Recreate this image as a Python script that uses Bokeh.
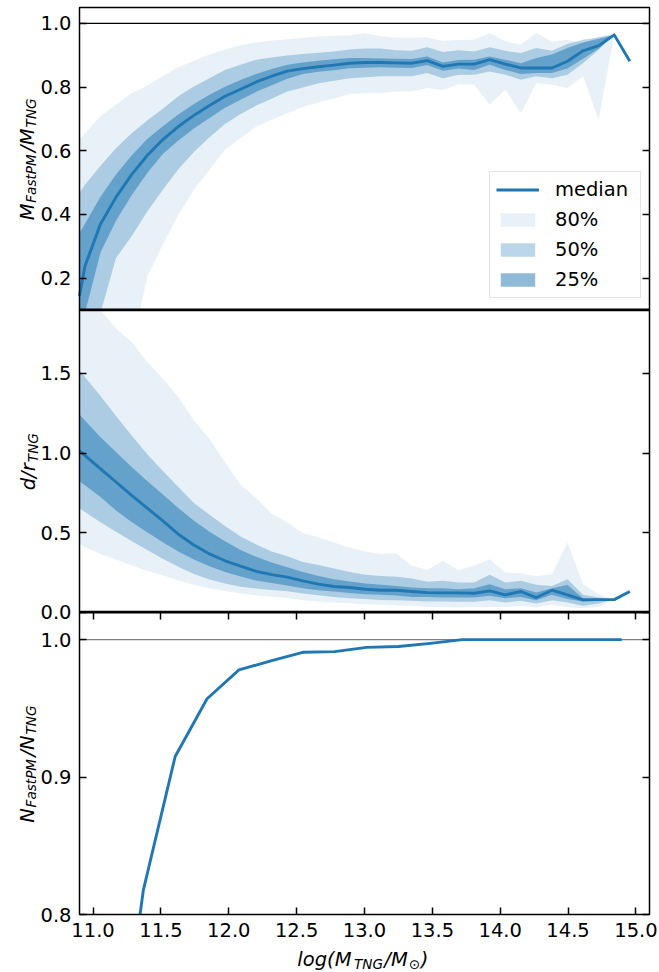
import numpy as np
from math import pi
from bokeh.plotting import figure
from bokeh.models import (Range1d, LinearAxis, FixedTicker, PrintfTickFormatter,
                          CustomJSTickFormatter, BoxAnnotation, Legend, LegendItem, Label)
from bokeh.embed import file_html
from bokeh.resources import INLINE

# ------------------------------------------------------------------ data
x_bins = [10.825, 10.940, 11.055, 11.169, 11.284, 11.399, 11.514, 11.628, 11.743,
          11.858, 11.972, 12.087, 12.202, 12.316, 12.431, 12.546, 12.661, 12.775,
          12.890, 13.005, 13.119, 13.234, 13.349, 13.463, 13.578, 13.693, 13.808,
          13.922, 14.037, 14.152, 14.266, 14.381, 14.496, 14.610, 14.725, 14.840,
          14.955]

# panel 1 : M_FastPM / M_TNG
mass_median = [-0.03, 0.237, 0.370, 0.454, 0.525, 0.585, 0.635, 0.676, 0.711, 0.742,
               0.771, 0.793, 0.816, 0.834, 0.850, 0.858, 0.864, 0.869, 0.875, 0.877,
               0.877, 0.876, 0.875, 0.883, 0.865, 0.872, 0.872, 0.886, 0.872, 0.860,
               0.860, 0.860, 0.881, 0.914, 0.930, 0.964, 0.881]
mass_p25_hi = [0.29, 0.370, 0.455, 0.525, 0.585, 0.637, 0.677, 0.714, 0.747, 0.776,
               0.801, 0.822, 0.841, 0.857, 0.870, 0.877, 0.883, 0.887, 0.891, 0.891,
               0.890, 0.889, 0.888, 0.896, 0.877, 0.885, 0.886, 0.896, 0.886, 0.875,
               0.891, 0.902, 0.923, 0.940, 0.951, 0.964]
mass_p25_lo = [-0.10, 0.09, 0.28, 0.38, 0.46, 0.53, 0.59, 0.632, 0.670, 0.703, 0.735,
               0.760, 0.785, 0.806, 0.826, 0.841, 0.848, 0.853, 0.859, 0.861, 0.862,
               0.861, 0.860, 0.869, 0.851, 0.858, 0.854, 0.870, 0.854, 0.841, 0.844,
               0.844, 0.858, 0.889, 0.920, 0.964]
mass_p50_hi = [0.42, 0.493, 0.553, 0.608, 0.655, 0.695, 0.732, 0.771, 0.802, 0.828,
               0.854, 0.870, 0.886, 0.893, 0.899, 0.904, 0.908, 0.912, 0.918, 0.921,
               0.921, 0.916, 0.914, 0.925, 0.910, 0.916, 0.912, 0.925, 0.914, 0.907,
               0.923, 0.914, 0.935, 0.949, 0.956, 0.964]
mass_p50_lo = [-0.30, -0.10, 0.09, 0.263, 0.331, 0.409, 0.477, 0.542, 0.596, 0.642,
               0.684, 0.715, 0.742, 0.763, 0.786, 0.799, 0.812, 0.820, 0.828, 0.831,
               0.834, 0.834, 0.834, 0.844, 0.828, 0.839, 0.839, 0.849, 0.839, 0.823,
               0.834, 0.828, 0.839, 0.875, 0.917, 0.964]
mass_p80_hi = [0.60, 0.655, 0.708, 0.745, 0.781, 0.805, 0.834, 0.862, 0.883, 0.902,
               0.917, 0.931, 0.940, 0.946, 0.950, 0.955, 0.959, 0.961, 0.963, 0.969,
               0.960, 0.955, 0.955, 0.956, 0.945, 0.948, 0.949, 0.970, 0.943, 0.933,
               0.970, 0.943, 0.949, 0.938, 0.959, 0.966]
mass_p80_lo = [-0.55, -0.40, -0.27, -0.15, -0.03, 0.205, 0.305, 0.399, 0.477, 0.540,
               0.603, 0.640, 0.676, 0.697, 0.718, 0.737, 0.752, 0.763, 0.778, 0.781,
               0.781, 0.786, 0.786, 0.797, 0.790, 0.809, 0.807, 0.745, 0.792, 0.718,
               0.813, 0.807, 0.797, 0.834, 0.697, 0.964]

# panel 2 : d / r_TNG
dist_median = [1.07, 0.985, 0.901, 0.818, 0.734, 0.654, 0.574, 0.490, 0.422, 0.366,
               0.323, 0.289, 0.256, 0.236, 0.220, 0.197, 0.176, 0.161, 0.155, 0.144,
               0.138, 0.138, 0.130, 0.123, 0.121, 0.121, 0.119, 0.134, 0.109, 0.130,
               0.092, 0.138, 0.109, 0.077, 0.079, 0.079, 0.130]
dist_p25_hi = [1.31, 1.205, 1.10, 1.006, 0.912, 0.825, 0.740, 0.655, 0.575, 0.505,
               0.445, 0.390, 0.348, 0.312, 0.282, 0.252, 0.228, 0.207, 0.193, 0.180,
               0.172, 0.165, 0.155, 0.151, 0.151, 0.144, 0.151, 0.176, 0.144, 0.151,
               0.123, 0.150, 0.170, 0.088, 0.086, 0.079]
dist_p25_lo = [0.87, 0.797, 0.723, 0.639, 0.566, 0.503, 0.440, 0.382, 0.331, 0.289,
               0.252, 0.224, 0.199, 0.184, 0.168, 0.151, 0.138, 0.130, 0.121, 0.113,
               0.109, 0.105, 0.096, 0.096, 0.092, 0.092, 0.092, 0.103, 0.088, 0.096,
               0.075, 0.109, 0.082, 0.067, 0.071, 0.079]
dist_p50_hi = [1.60, 1.478, 1.358, 1.233, 1.111, 0.992, 0.887, 0.786, 0.686, 0.612,
               0.541, 0.476, 0.426, 0.382, 0.352, 0.316, 0.297, 0.274, 0.253, 0.235,
               0.228, 0.222, 0.212, 0.191, 0.197, 0.186, 0.186, 0.235, 0.186, 0.197,
               0.172, 0.165, 0.207, 0.109, 0.092, 0.079]
dist_p50_lo = [0.69, 0.63, 0.565, 0.505, 0.447, 0.39, 0.335, 0.285, 0.24, 0.205, 0.18,
               0.16, 0.148, 0.14, 0.132, 0.117, 0.107, 0.096, 0.088, 0.082, 0.077,
               0.075, 0.071, 0.067, 0.067, 0.065, 0.065, 0.075, 0.061, 0.071, 0.054,
               0.075, 0.061, 0.040, 0.054, 0.079]
dist_p80_hi = [2.20, 2.05, 1.897, 1.782, 1.698, 1.572, 1.468, 1.352, 1.205, 1.09, 0.94,
               0.80, 0.717, 0.618, 0.564, 0.497, 0.469, 0.438, 0.406, 0.381, 0.365,
               0.369, 0.291, 0.266, 0.323, 0.264, 0.291, 0.333, 0.249, 0.243, 0.228,
               0.239, 0.438, 0.176, 0.113, 0.079]
dist_p80_lo = [0.46, 0.41, 0.365, 0.33, 0.295, 0.26, 0.23, 0.20, 0.172, 0.15, 0.133,
               0.118, 0.106, 0.097, 0.089, 0.075, 0.067, 0.061, 0.056, 0.050, 0.046,
               0.044, 0.040, 0.033, 0.033, 0.029, 0.033, 0.033, 0.033, 0.040, 0.029,
               0.046, 0.033, 0.025, 0.033, 0.079]

# panel 3 : N_FastPM / N_TNG
x_count = [11.135, 11.37, 11.605, 11.84, 12.075, 12.31, 12.545, 12.78, 13.015, 13.25,
           13.485, 13.72, 13.955, 14.19, 14.425, 14.66, 14.895]
count_ratio = [0.645, 0.8175, 0.915, 0.957, 0.978, 0.9845, 0.9908, 0.9913, 0.9944,
               0.995, 0.9973, 1.0, 1.0, 1.0, 1.0, 1.0, 1.0]

x_ticks = [11.0, 11.5, 12.0, 12.5, 13.0, 13.5, 14.0, 14.5, 15.0]
ticks_mass = [0.2, 0.4, 0.6, 0.8, 1.0]
ticks_dist = [0.0, 0.5, 1.0, 1.5]
ticks_count = [0.8, 0.9, 1.0]
legend_labels = ["median", "80%", "50%", "25%"]

# ------------------------------------------------------------------ layout / style
C0 = "#1f77b4"
FONT = "DejaVu Sans"
FS = 19.5
W, H = 659, 972
PL, PR = 79, 649                       # plot area, canvas pixels
ROWS = [7, 309.33, 611.67, 914]        # panel edges, canvas pixels (top->bottom)
x_lim = (10.9, 15.1)
lim1, lim2, lim3 = (0.1, 1.05), (0.0, 1.9), (0.8, 1.02)

ux = (x_lim[1] - x_lim[0]) / (PR - PL)
x_canvas = Range1d(x_lim[0] - PL * ux, x_lim[1] + (W - PR) * ux)


def canvas_range(lim, top_px, bot_px):
    a, b = lim
    u = (b - a) / (bot_px - top_px)
    return Range1d(a - (H - bot_px) * u, b + top_px * u)


def xclip(x, *ys):
    x = np.asarray(x, float)
    ys = [np.asarray(y, float) for y in ys]
    keep = (x >= x_lim[0]) & (x <= x_lim[1])
    xs = list(x[keep])
    out = [list(y[keep]) for y in ys]
    if x[0] < x_lim[0]:
        xs = [x_lim[0]] + xs
        out = [[float(np.interp(x_lim[0], x, y))] + o for y, o in zip(ys, out)]
    return np.array(xs), [np.array(o) for o in out]


def _cross(x, ys, lo, hi):
    xs = set(x.tolist())
    for y in ys:
        for i in range(len(x) - 1):
            for bnd in (lo, hi):
                d0, d1 = y[i] - bnd, y[i + 1] - bnd
                if d0 * d1 < 0:
                    xs.add(x[i] + (x[i + 1] - x[i]) * d0 / (d0 - d1))
    return np.array(sorted(xs))


def clip_band(x, y1, y2, lim):
    x, (y1, y2) = xclip(x, y1, y2)
    xs = _cross(x, [y1, y2], *lim)
    return (xs, np.clip(np.interp(xs, x, y1), *lim),
            np.clip(np.interp(xs, x, y2), *lim))


def clip_line(x, y, lim):
    x, (y,) = xclip(x, y)
    xs = _cross(x, [y], *lim)
    ys = np.interp(xs, x, y)
    ys = np.where((ys < lim[0] - 1e-9) | (ys > lim[1] + 1e-9), np.nan, ys)
    return xs, ys


p = figure(width=W, height=H, x_range=x_canvas,
           y_range=canvas_range(lim3, ROWS[2], ROWS[3]), title=None,
           output_backend="svg", toolbar_location=None,
           x_axis_location=None, y_axis_location=None,
           min_border_left=0, min_border_right=0, min_border_top=0, min_border_bottom=0)
p.extra_y_ranges = {"p1": canvas_range(lim1, ROWS[0], ROWS[1]),
                    "p2": canvas_range(lim2, ROWS[1], ROWS[2])}
p.xgrid.grid_line_color = None
p.ygrid.grid_line_color = None
p.outline_line_color = None
p.background_fill_color = "white"
p.border_fill_color = "white"


def hline_box(rname, bottom, top, color, width, level="annotation"):
    return BoxAnnotation(left=x_lim[0], right=x_lim[1], bottom=bottom, top=top,
                         y_range_name=rname, fill_alpha=0, fill_color=None,
                         line_color=color, line_alpha=1.0, line_width=width,
                         level=level)


# --- reference lines y = 1 (under the data)
p.add_layout(hline_box("p1", 1.0, 1.0, "black", 1.3, "underlay"))
p.add_layout(hline_box("default", 1.0, 1.0, "#808080", 1.3, "underlay"))

# --- bands + medians
nb = len(mass_p80_hi)
bands = {}
for name, lim, med, sets in [
    ("p1", lim1, mass_median, [(mass_p80_lo, mass_p80_hi, 0.1),
                               (mass_p50_lo, mass_p50_hi, 0.3),
                               (mass_p25_lo, mass_p25_hi, 0.5)]),
    ("p2", lim2, dist_median, [(dist_p80_lo, dist_p80_hi, 0.1),
                               (dist_p50_lo, dist_p50_hi, 0.3),
                               (dist_p25_lo, dist_p25_hi, 0.5)])]:
    rs = []
    for lo, hi, a in sets:
        xs, y1, y2 = clip_band(x_bins[:nb], lo, hi, lim)
        rs.append(p.varea(x=xs, y1=y1, y2=y2, fill_color=C0, fill_alpha=a,
                          y_range_name=name))
    xs, ys = clip_line(x_bins, med, lim)
    rm = p.line(xs, ys, line_color=C0, line_width=2.9, line_join="round",
                y_range_name=name)
    bands[name] = (rm, rs)

xs3, ys3 = clip_line(x_count, count_ratio, lim3)
p.line(xs3, ys3, line_color=C0, line_width=2.9, line_join="round")

# --- panel frames (spines) and thicker shared edges
for rname, lim in [("p1", lim1), ("p2", lim2), ("default", lim3)]:
    p.add_layout(hline_box(rname, lim[0], lim[1], "black", 1.5))
for rname, edge in [("p2", lim2[1]), ("default", lim3[1])]:
    p.add_layout(hline_box(rname, edge, edge, "black", 2.6))


def style_axis(ax, labels=True):
    ax.major_tick_in = 7
    ax.major_tick_out = 0
    ax.major_tick_line_width = 1.5
    ax.major_tick_line_color = "black"
    ax.minor_tick_line_color = None
    ax.axis_line_color = None
    if labels:
        ax.formatter = PrintfTickFormatter(format="%.1f")
        ax.major_label_text_font = FONT
        ax.major_label_text_font_size = f"{FS}px"
        ax.major_label_text_color = "black"
    else:
        ax.formatter = CustomJSTickFormatter(code="return ''")


for rname, ticks in [("p1", ticks_mass), ("p2", ticks_dist), ("default", ticks_count)]:
    axl = LinearAxis(y_range_name=rname, fixed_location=x_lim[0],
                     ticker=FixedTicker(ticks=ticks))
    style_axis(axl)
    axl.major_label_standoff = 8
    p.add_layout(axl, "left")
    axr = LinearAxis(y_range_name=rname, fixed_location=x_lim[1],
                     ticker=FixedTicker(ticks=ticks))
    style_axis(axr, labels=False)
    p.add_layout(axr, "right")

axb = LinearAxis(fixed_location=lim3[0], ticker=FixedTicker(ticks=x_ticks))
style_axis(axb)
axb.major_label_standoff = 8
p.add_layout(axb, "below")
axt = LinearAxis(fixed_location=lim3[1], ticker=FixedTicker(ticks=x_ticks))
style_axis(axt, labels=False)
p.add_layout(axt, "above")

# --- legend (top panel, lower right)
rm, rs = bands["p1"]
legend = Legend(items=[LegendItem(label=legend_labels[0], renderers=[rm]),
                       LegendItem(label=legend_labels[1], renderers=[rs[0]]),
                       LegendItem(label=legend_labels[2], renderers=[rs[1]]),
                       LegendItem(label=legend_labels[3], renderers=[rs[2]])],
                location=(489, H - 297.7), margin=0, padding=6,
                spacing=7, glyph_width=43, glyph_height=17, label_height=17,
                label_width=79, label_standoff=16, label_text_font=FONT,
                label_text_font_size=f"{FS}px", label_text_color="black",
                border_line_color="#cccccc", border_line_width=1.3,
                background_fill_alpha=0.8)
p.add_layout(legend, "center")

# --- axis titles composed of main text + subscripts (mathtext look)
ADV = {'M': 0.863, 'F': 0.575, 'a': 0.613, 's': 0.521, 't': 0.392, 'P': 0.603,
       'T': 0.611, 'N': 0.748, 'G': 0.775, '/': 0.337, 'd': 0.635, 'r': 0.411,
       'l': 0.278, 'o': 0.612, 'g': 0.635, '(': 0.390, ')': 0.390, '\u2299': 0.838}
SPC = 1.045
SUB = 0.7
SHIFT = 4.0


def seg_w(t, sub):
    return sum(ADV[c] for c in t) * FS * (SUB if sub else 1.0) * SPC


def title(segs, center, base, vertical):
    total = sum(seg_w(t, s) for t, s in segs)
    pos = center - total / 2
    for t, s in segs:
        size = FS * (SUB if s else 1.0)
        if vertical:
            x, y = base + (SHIFT if s else 0), pos
        else:
            x, y = pos, base - (SHIFT if s else 0)
        p.add_layout(Label(x=x, y=y, x_units="screen", y_units="screen", text=t,
                           angle=pi / 2 if vertical else 0, text_font=FONT,
                           text_font_style="italic", text_font_size=f"{size:.1f}px",
                           text_baseline="alphabetic", text_align="left",
                           text_color="black"))
        pos += seg_w(t, s)


def mid(i):
    return H - (ROWS[i] + ROWS[i + 1]) / 2


title([("M", False), ("FastPM", True), ("/M", False), ("TNG", True)], mid(0), 26.5, True)
title([("d/r", False), ("TNG", True)], mid(1), 28.0, True)
title([("N", False), ("FastPM", True), ("/N", False), ("TNG", True)], mid(2), 26.5, True)
title([("log(M", False), ("TNG", True), ("/M", False), ("\u2299", True), (")", False)],
      (PL + PR) / 2 - 1.5, H - 959, False)

open("out.html", "w").write(file_html(p, INLINE))
